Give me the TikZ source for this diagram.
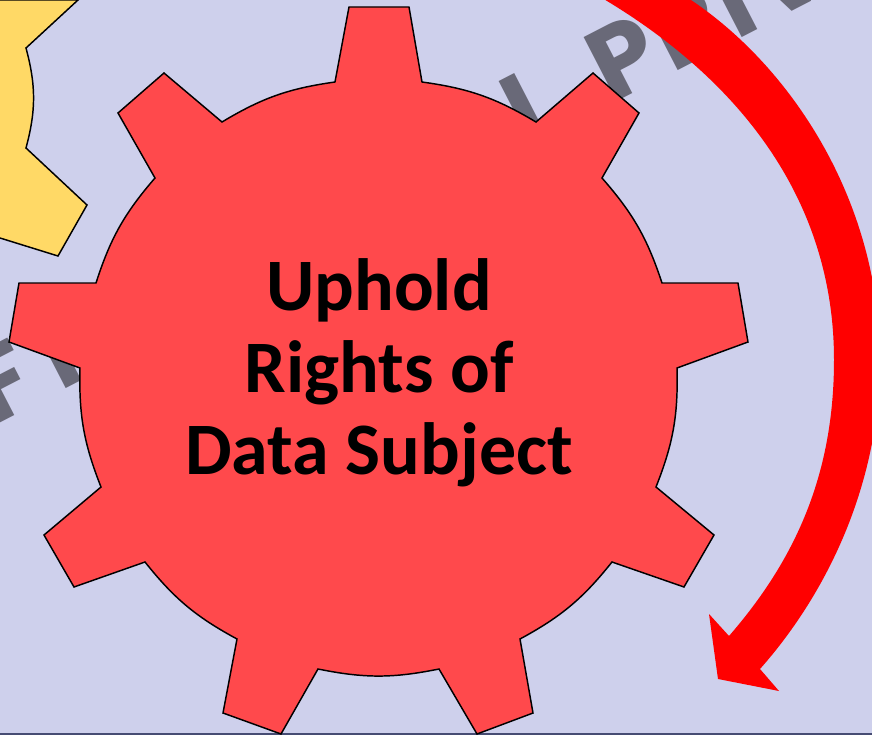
\documentclass[tikz,border=0pt]{standalone}
\usepackage{fontspec}
\setmainfont{Carlito}
\newfontfamily\wmfont[LetterSpace=5]{Poppins}
\usetikzlibrary{calc}
\definecolor{paneblue}{RGB}{206,208,236}
\definecolor{gearred}{RGB}{255,73,76}
\definecolor{gearyellow}{RGB}{255,217,102}
\definecolor{wmgray}{RGB}{105,105,120}
\definecolor{edgeblue}{RGB}{70,76,115}
\tikzset{>=latex}
\tikzset{
	gearline/.style={draw=black, line width=1.1pt, line join=miter},
	wmtext/.style={text=wmgray, font=\wmfont\bfseries\fontsize{77}{77}\selectfont, rotate=27.3, anchor=base west, inner sep=0pt},
	geartext/.style={font=\bfseries\fontsize{55.5}{61.5}\selectfont, align=center, text=black}
}
\begin{document}
\begin{tikzpicture}[x=0.75pt, y=-0.75pt]
		\clip (0,0) rectangle (872,735);
		\fill[paneblue] (0,0) rectangle (872,735);
		\fill[edgeblue] (0,733) rectangle (872,735);
		% watermark behind the gears
		\node[wmtext] (wmleft) at (-7,427) {F};
		\node[wmtext] (wmstem) at (60,392) {I};
		\node[wmtext] (wmword) at (526,149) {L};
		\node[wmtext] (wmright) at (611,105) {PRIV};
		% left gear, cut by the border
		\draw[gearline, fill=gearyellow] (78,0) -- (26,48) to[bend left=15] (26,148) -- (87,205) -- (58,256) -- (0,238) -- (-20,238) -- (-20,0) -- cycle;
		% main gear
		\draw[gearline, fill=gearred] (335,82) -- (349,7) -- (409,7) -- (422,82)
			to[bend left=11.5] (536,122) -- (593,73) -- (639,113) -- (602,178)
			to[bend left=11.5] (662,283) -- (738,283) -- (748,342) -- (677,368)
			to[bend left=11.5] (656,487) -- (714,535) -- (684,587) -- (612,562)
			to[bend left=11.5] (520,639) -- (533,713) -- (477,734) -- (439,669)
			to[bend left=11.5] (318,669) -- (281,734) -- (223,713) -- (237,639)
			to[bend left=11.5] (145,562) -- (74,587) -- (44,535) -- (101,487)
			to[bend left=11.5] (80,368) -- (9,342) -- (19,283) -- (96,283)
			to[bend left=11.5] (155,178) -- (118,113) -- (164,73) -- (222,122)
			to[bend left=11.5] cycle;
		\node[geartext] (geartitle) at (379,373) {Uphold\\Rights of\\Data Subject};
		% red arrow
		\fill[red] (688,-2) .. controls (790,65) and (880,200) .. (880,360) .. controls (880,480) and (830,590) .. (760,669)
			-- (779,691) -- (718,679) -- (709,614) -- (729,636)
			.. controls (795,560) and (834,475) .. (834,360) .. controls (834,200) and (740,80) .. (602,-2) -- cycle;
	\end{tikzpicture}
\end{document}
